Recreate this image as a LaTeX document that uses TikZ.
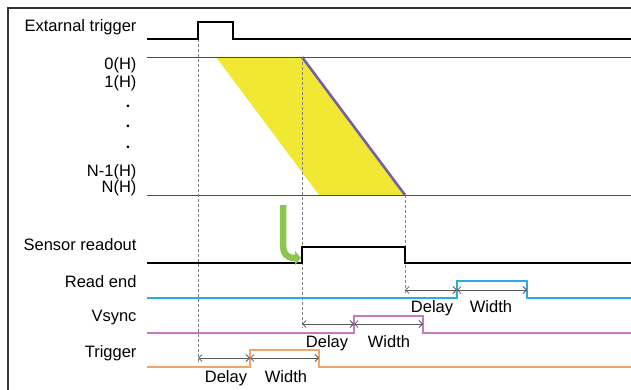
\documentclass[tikz,border=0pt]{standalone}
\usepackage{fontspec}
\setmainfont{Liberation Sans}
\usetikzlibrary{arrows.meta}
\definecolor{readblue}{RGB}{45,170,225}
\definecolor{vsyncpink}{RGB}{200,120,195}
\definecolor{trigorange}{RGB}{245,165,105}
\definecolor{bandyellow}{RGB}{240,232,50}
\definecolor{edgepurple}{RGB}{120,95,165}
\definecolor{arrowgreen}{RGB}{140,198,80}

\begin{document}
\begin{tikzpicture}[x=1pt,y=-1pt,
    lbl/.style={anchor=base east,font=\fontsize{16.5}{18}\selectfont},
    sublbl/.style={anchor=base,font=\fontsize{16.5}{18}\selectfont},
    dotlbl/.style={anchor=base,font=\fontsize{9.5}{10}\selectfont},
    sig/.style={line width=1.6pt,line join=miter},
    rowline/.style={line width=0.9pt,black!70},
    guide/.style={line width=0.8pt,gray,dash pattern=on 3pt off 2pt},
    dim/.style={line width=0.8pt,black!65,
      {Straight Barb[length=3.5pt,width=7pt]}-{Straight Barb[length=3.5pt,width=7pt]}}]
    \useasboundingbox (0,0) rectangle (631,390);
    % frame
    \draw[line width=1.2pt,black!80] (8,390) -- (8,8) -- (631,8);

    % row labels
    \node[lbl] (ext)  at (140,32)  {Extarnal trigger};
    \node[lbl] (h0)   at (140,70)  {0(H)};
    \node[lbl] (h1)   at (140,88)  {1(H)};
    \node[dotlbl] (d1) at (128,110) {•};
    \node[dotlbl] (d2) at (128,130) {•};
    \node[dotlbl] (d3) at (128,150) {•};
    \node[lbl] (hn1)  at (140,177) {N-1(H)};
    \node[lbl] (hn)   at (140,193) {N(H)};
    \node[lbl] (sens) at (140,250) {Sensor readout};
    \node[lbl] (rend) at (140,287) {Read end};
    \node[lbl] (vsy)  at (140,321) {Vsync};
    \node[lbl] (trg)  at (140,357) {Trigger};

    % exposure band of the lines
    \fill[bandyellow] (216,57) -- (302,57) -- (405,195) -- (319,195) -- cycle;
    \draw[edgepurple,line width=2.6pt] (302,57) -- (405,195);
    \draw[rowline] (147,57) -- (631,57);
    \draw[rowline] (147,195) -- (631,195);

    % guides
    \draw[guide] (198,39) -- (198,362);
    \draw[guide] (302,57) -- (302,328);
    \draw[guide] (405,195) -- (405,294);

    % signals
    \draw[sig] (147,39) -- (198,39) -- (198,22) -- (233,22) -- (233,39) -- (631,39);
    \draw[sig] (147,263) -- (302,263) -- (302,247) -- (405,247) -- (405,263) -- (631,263);
    \draw[sig,readblue] (147,298) -- (457,298) -- (457,281) -- (527,281) -- (527,298) -- (631,298);
    \draw[sig,vsyncpink] (147,333) -- (354,333) -- (354,316) -- (423,316) -- (423,333) -- (631,333);
    \draw[sig,trigorange] (147,367) -- (250,367) -- (250,350) -- (319,350) -- (319,367) -- (631,367);

    % green arrow
    \draw[arrowgreen,line width=6.5pt,-{Triangle[length=6pt,width=14pt]}]
      (283,205) -- (283,243) .. controls (283,255) and (287,258) .. (301,258);

    % delay / width spans
    \coordinate (rA) at (405,290); \coordinate (rB) at (457,290); \coordinate (rC) at (527,290);
    \coordinate (vA) at (302,324); \coordinate (vB) at (354,324); \coordinate (vC) at (423,324);
    \coordinate (tA) at (198,358); \coordinate (tB) at (250,358); \coordinate (tC) at (319,358);
    \draw[dim] (rA) -- (rB);
    \draw[dim] (rB) -- (rC);
    \draw[dim] (vA) -- (vB);
    \draw[dim] (vB) -- (vC);
    \draw[dim] (tA) -- (tB);
    \draw[dim] (tB) -- (tC);
    \node[sublbl] (rdel) at (432,312) {Delay};
    \node[sublbl] (rwid) at (491,312) {Width};
    \node[sublbl] (vdel) at (327,347) {Delay};
    \node[sublbl] (vwid) at (389,347) {Width};
    \node[sublbl] (tdel) at (226,382) {Delay};
    \node[sublbl] (twid) at (286,382) {Width};
\end{tikzpicture}
\end{document}
